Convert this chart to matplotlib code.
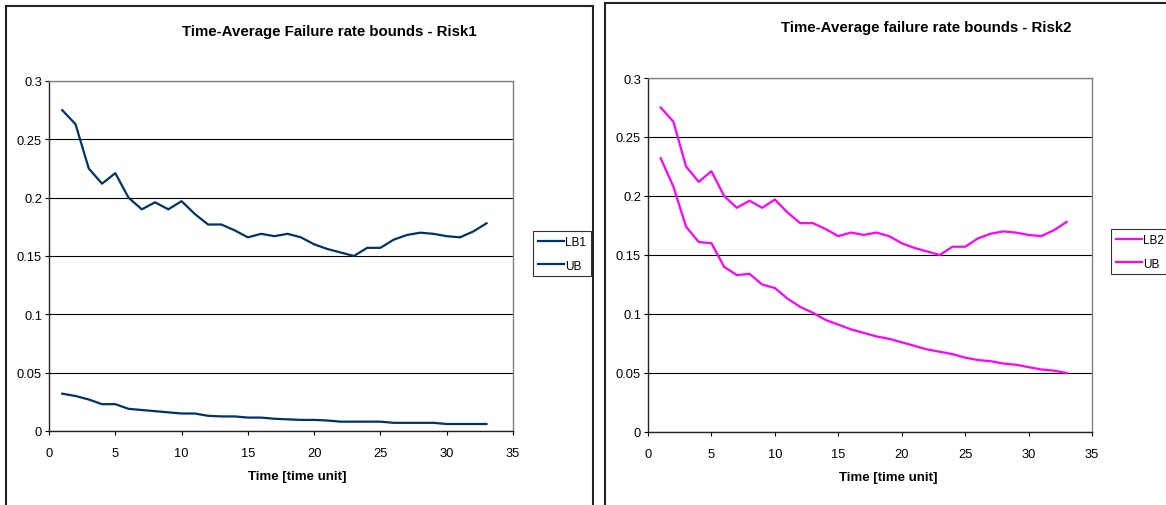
import matplotlib
matplotlib.use('Agg')
import matplotlib.pyplot as plt
from matplotlib.patches import Rectangle
from matplotlib.ticker import FuncFormatter

plt.rcParams['font.family'] = ['Liberation Sans', 'DejaVu Sans']

# time axis (time units)
time = list(range(1, 34))

# upper bound, same for both risks
ub = [0.275, 0.263, 0.225, 0.212, 0.221, 0.200, 0.190, 0.196, 0.190, 0.197,
      0.186, 0.177, 0.177, 0.172, 0.166, 0.169, 0.167, 0.169, 0.166, 0.160,
      0.156, 0.153, 0.150, 0.157, 0.157, 0.164, 0.168, 0.170, 0.169, 0.167,
      0.166, 0.171, 0.178]

# lower bound risk 1
lb1 = [0.032, 0.030, 0.027, 0.023, 0.023, 0.019, 0.018, 0.017, 0.016, 0.015,
       0.015, 0.013, 0.0125, 0.0125, 0.0115, 0.0115, 0.0105, 0.010, 0.0095, 0.0095,
       0.009, 0.008, 0.008, 0.008, 0.008, 0.007, 0.007, 0.007, 0.007, 0.006,
       0.006, 0.006, 0.006]

# lower bound risk 2
lb2 = [0.232, 0.208, 0.174, 0.161, 0.160, 0.140, 0.133, 0.134, 0.125, 0.122,
       0.113, 0.106, 0.101, 0.095, 0.091, 0.087, 0.084, 0.081, 0.079, 0.076,
       0.073, 0.070, 0.068, 0.066, 0.063, 0.061, 0.060, 0.058, 0.057, 0.055,
       0.053, 0.052, 0.050]

W, H = 1166, 506
fig = plt.figure(figsize=(W / 100, H / 100), dpi=100)
fig.patch.set_facecolor('white')


def fx(px):
    return px / W


def fy(py):
    return 1 - py / H


# outer chart borders (excel chart areas)
fig.patches.append(Rectangle((fx(6), -0.1), fx(593 - 6), fy(7) + 0.1, transform=fig.transFigure,
                             fill=False, edgecolor='#222222', lw=1.5))
fig.patches.append(Rectangle((fx(605), -0.1), 0.6, fy(4) + 0.1, transform=fig.transFigure,
                             fill=False, edgecolor='#222222', lw=1.5))


def setup(ax):
    ax.set_xlim(0, 35)
    ax.set_ylim(0, 0.3)
    ax.set_xticks(range(0, 36, 5))
    ax.set_yticks([0, 0.05, 0.1, 0.15, 0.2, 0.25, 0.3])
    ax.yaxis.set_major_formatter(FuncFormatter(lambda v, p: '%g' % round(v, 2)))
    ax.set_axisbelow(True)
    ax.yaxis.grid(True, color='black', lw=0.8)
    ax.spines['top'].set_color('#808080')
    ax.spines['right'].set_color('#808080')
    ax.spines['left'].set_color('#222222')
    ax.spines['bottom'].set_color('#222222')
    for s in ax.spines.values():
        s.set_linewidth(1.0)
    ax.tick_params(axis='x', direction='out', length=3, width=0.8, pad=8.5, labelsize=9.3)
    ax.tick_params(axis='y', direction='out', length=3, width=0.8, pad=2, labelsize=9.3)


# ---- Risk1
ax1 = fig.add_axes([fx(49), fy(432), fx(513 - 49), fy(82) - fy(432)])
setup(ax1)
ax1.plot(time, lb1, color='#003366', lw=1.6, label='LB1')
ax1.plot(time, ub, color='#003366', lw=1.6, label='UB')
fig.text(fx(329), fy(32), 'Time-Average Failure rate bounds - Risk1', ha='center', va='center',
         fontsize=10.8, fontweight='bold')
fig.text(fx(297), fy(477), 'Time [time unit]', ha='center', va='center', fontsize=9.5, fontweight='bold')
leg1 = ax1.legend(loc='upper left', bbox_to_anchor=(fx(533), fy(232)), bbox_transform=fig.transFigure,
                  fontsize=8.5, frameon=True, fancybox=False, handlelength=2.2, handletextpad=0.1,
                  labelspacing=1.0, borderpad=0.4, borderaxespad=0)
leg1.get_frame().set_edgecolor('black')
leg1.get_frame().set_linewidth(0.8)

# ---- Risk2
ax2 = fig.add_axes([fx(648), fy(433), fx(1092 - 648), fy(79) - fy(433)])
setup(ax2)
ax2.plot(time, lb2, color='#FF00FF', lw=1.6, label='LB2')
ax2.plot(time, ub, color='#FF00FF', lw=1.6, label='UB')
fig.text(fx(926), fy(28), 'Time-Average failure rate bounds - Risk2', ha='center', va='center',
         fontsize=10.8, fontweight='bold')
fig.text(fx(888), fy(478), 'Time [time unit]', ha='center', va='center', fontsize=9.5, fontweight='bold')
leg2 = ax2.legend(loc='upper left', bbox_to_anchor=(fx(1111), fy(230)), bbox_transform=fig.transFigure,
                  fontsize=8.5, frameon=True, fancybox=False, handlelength=2.2, handletextpad=0.1,
                  labelspacing=1.0, borderpad=0.4, borderaxespad=0)
leg2.get_frame().set_edgecolor('black')
leg2.get_frame().set_linewidth(0.8)

fig.savefig('out.png', dpi=100, facecolor='white')
